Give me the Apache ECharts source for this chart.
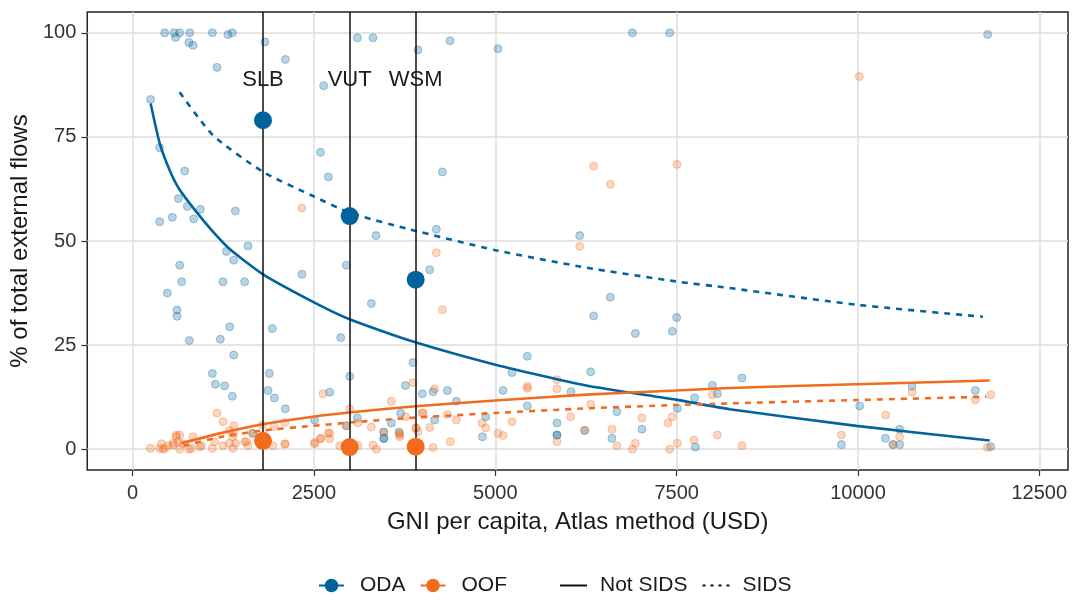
<!DOCTYPE html>
<html><head><meta charset="utf-8">
<script src="https://cdn.jsdelivr.net/npm/echarts@6/dist/echarts.min.js"></script>
<style>html,body{margin:0;padding:0;background:#fff}#c{width:1074px;height:601px}</style>
</head><body><div id="c"></div><script>
// ---- tick labels ----
const xTicks = [0, 2500, 5000, 7500, 10000, 12500];
const yTicks = [0, 25, 50, 75, 100];

// ---- highlighted countries ----
const countries = ['SLB', 'VUT', 'WSM'];
const countryGNI = [1797, 2992, 3902];
const countryODA = [79, 56, 40.7];
const countryOOF = [2.0, 0.5, 0.6];
const countryLabelY = [88.8, 88.8, 88.8];

// ---- scatter points: ODA share ----
const odaPoints = [
[441,100],[570,100],[593,98.9],[648,100],[786,100],[776,97.7],[832,97],[1099,100],[1314,99.6],[1374,100],[1824,97.8],[2105,93.6],[1163,91.7],[2633,87.3],[248,84],[372,72.4],[717,66.8],[2588,71.3],[2698,65.4],[630,60.2],[754,58.3],[933,57.6],[1416,57.2],[372,54.6],[547,55.7],[841,55.3],[3355,51.3],[1590,48.8],[3098,98.8],[3313,98.8],
[3934,95.9],[4375,98.1],[5037,96.2],[6890,100],[7404,100],[4270,66.6],[4187,52.8],[6163,51.3],[11788,99.6],
[1292,47.5],[1393,45.4],[648,44.2],[676,40.2],[1245,40.2],[1544,40.2],[2334,42],[2946,44.2],[478,37.5],[611,33.4],[611,31.9],[3291,35],[1337,29.4],[1926,29],[781,26.1],[1209,26.4],[2868,26.8],[1393,22.6],[1099,18.2],[1885,18.2],[2992,17.5],[1140,15.6],[1268,15.2],[1866,14.1],[1374,12.7],[1953,12.3],[2716,13.7],[2105,9.7],[3760,15.3],[3695,8.6],[3567,6.3],[3098,7.5],[2509,7.0],[3461,2.5],[3461,4.1],[3672,4.1],[1659,3.8],[2946,5.6],
[4095,43.1],[6586,36.5],[6356,32],[6931,27.8],[7441,28.3],[7500,31.6],[5442,22.3],[5230,18.4],[6315,18.6],[3865,20.8],[3994,13.3],[4141,13.8],[4339,14.1],[4463,11.5],[5106,14.1],[5442,10.4],[6044,13.8],[6677,9.0],[4164,7.0],[4867,7.8],[5850,6.3],[4822,3.0],[5850,3.4],[5850,3.4],[6608,2.6],[7022,4.8],[7510,9.8],[7749,12.3],[7992,15.3],[8061,13.3],[7758,0.5],[6232,4.5],[3465,2.7],
[8401,17.1],[10023,10.4],[10745,15.1],[11618,14.1],[9771,1.1],[10378,2.6],[10575,4.8],[10575,1.1],[10483,1.1],[11830,0.6]
];

// ---- scatter points: OOF share ----
const oofPoints = [
[6356,68],[6586,63.6],[7505,68.4],[6163,48.7],[4187,47.2],[10019,89.5],[2334,57.9],[4270,33.5],[3865,16],[4164,14.5],[5442,15.1],[5442,14.6],[5850,16.7],[5850,14.5],[6315,10.8],[3994,8.7],[4339,8.3],[4463,7],[4817,6.3],[4867,5.1],[5230,6.6],[6039,7.8],[4095,5.2],[3902,5.1],[3934,4.2],[3681,3.8],[4141,0.4],[4380,1.8],[5037,3.8],[5106,3.3],[5850,1.8],[6608,4.8],[6677,0.8],[6890,0],[6931,1.4],[7022,7.5],[7381,6.3],[7441,7.8],[7404,0],[7510,1.4],[7739,2.2],[8061,3.4],[7992,13.1],[6232,4.5],
[8401,0.8],[9771,3.4],[10382,8.2],[10575,3.0],[10745,13.7],[11618,11.9],[11830,13.1],[11784,0.4],[10483,1.1],
[2624,13.3],[3567,11.5],[2992,9.7],[2946,5.6],[3461,4.1],[3681,3.4],[2693,3.8],[2588,2.5],[2716,2.5],[2509,1.3],[2854,0.8],[3106,0.9],[3313,1.0],[3360,0],[2105,1.3],[1934,0.8],[1163,8.7],[1245,6.6],[1397,5.6],[1337,4.5],[1393,3.8],[1650,3.8],[1544,1.8],[1590,0.8],[1383,0.2],[1245,0.8],[1131,1.8],[1099,0.2],[947,0.8],[832,3.0],[776,0],[648,0],[625,1.8],[602,3.4],[648,3.4],[556,1.4],[487,0.8],[395,1.3],[372,0.2],[244,0.2],[441,0.2],[694,1.3],[1788,5.8],[1948,5.4],[2096,6.4],[1568,1.8],[2096,1.2],[2509,1.6],[2592,2.6],[2716,3.8],[3106,6.3],[3291,5.3],[3681,3.0],[3763,7.8],[3911,5.1],[4002,8.7],[418,0],[560,1.0],[602,3.0],[809,0.2],[924,0.6],[1330,1.4],[1420,1.4],[1380,3.0]
];

// ---- fitted curves ----
const odaNotSidsX = [248,372,510,648,878,1100,1337,1797,2486,2992,3819,5001,6255,7487,8231,9978,11816];
const odaNotSidsY = [83,73.5,67,62.3,57,52.4,48.1,42,35.4,31.2,26.1,20.3,15.3,11.9,9.6,5.6,2.1];
const oofNotSidsX = [671,1200,1797,2486,2992,3819,5001,6255,7487,8231,9978,11816];
const oofNotSidsY = [1.4,3.8,6.0,7.8,8.8,10.2,11.7,13.1,14.1,14.7,15.6,16.5];
const odaSidsX = [648,1107,1797,2486,2992,3819,5001,6255,7487,8231,9978,11723];
const odaSidsY = [85.7,75.4,66.6,60.8,56.8,52.8,47.8,43.6,40.3,38.7,34.7,31.8];
const oofSidsX = [700,1200,1797,2486,2992,3819,5001,6255,7487,8231,9978,11769];
const oofSidsY = [0.8,2.9,4.5,5.6,6.4,7.5,8.7,9.8,10.6,11.0,11.8,12.6];

const BLUE = '#00639B', ORANGE = '#F26B1F';
const FONT = '"Liberation Sans", Arial, sans-serif';
const zip = (xs, ys) => xs.map((x, i) => [x, ys[i]]);

const chart = echarts.init(document.getElementById('c'), null, {renderer: 'canvas'});
const curve = (name, xs, ys, color, dashed) => ({
  name, type: 'line', data: zip(xs, ys), symbol: 'none', smooth: 0.2,
  lineStyle: {color, width: 2.6, type: dashed ? [6, 6] : 'solid'}, z: 3, silent: true
});
const hideSym = {color: 'rgba(0,0,0,0)', borderColor: 'rgba(0,0,0,0)', borderWidth: 0};
chart.setOption({
  animation: false,
  backgroundColor: '#fff',
  textStyle: {fontFamily: FONT},
  grid: {left: 87, right: 6, top: 12, bottom: 131, show: true, borderColor: '#222', borderWidth: 1.5, backgroundColor: '#fff'},
  xAxis: {
    type: 'value', min: -626, max: 12896,
    name: 'GNI per capita, Atlas method (USD)', nameLocation: 'middle', nameGap: 40,
    nameTextStyle: {fontSize: 24, color: '#1a1a1a', fontFamily: FONT},
    axisLine: {show: false, onZero: false},
    axisTick: {show: true, length: 6, lineStyle: {color: '#333', width: 1.2}, customValues: xTicks},
    axisLabel: {fontSize: 20, color: '#333', margin: 13, fontFamily: FONT, customValues: xTicks, formatter: v => String(v)},
    splitLine: {show: true, lineStyle: {color: '#DCDCDC', width: 1.5}}
  },
  yAxis: {
    type: 'value', min: -5, max: 105,
    name: '% of total external flows', nameLocation: 'middle', nameGap: 53, nameRotate: 90,
    nameTextStyle: {fontSize: 24, color: '#1a1a1a', fontFamily: FONT},
    axisLine: {show: false, onZero: false},
    axisTick: {show: true, length: 6, lineStyle: {color: '#333', width: 1.2}, customValues: yTicks},
    axisLabel: {fontSize: 20, color: '#333', margin: 11, fontFamily: FONT, customValues: yTicks, formatter: v => String(v)},
    splitLine: {show: true, lineStyle: {color: '#DCDCDC', width: 1.5}}
  },
  legend: [
    {data: ['ODA', 'OOF'], left: 318, top: 575, padding: 0, itemWidth: 25, itemHeight: 17, itemGap: 14,
     textStyle: {fontSize: 21, color: '#1a1a1a', fontFamily: FONT, padding: [0, 0, 0, 11]}, selectedMode: false},
    {data: [{name: 'Not SIDS', itemStyle: hideSym}, {name: 'SIDS', itemStyle: hideSym}], left: 559, top: 575, padding: 0,
     itemWidth: 27, itemHeight: 17, itemGap: 14,
     textStyle: {fontSize: 21, color: '#1a1a1a', fontFamily: FONT, padding: [0, 0, 0, 8]}, selectedMode: false}
  ],
  series: [
    {name: 'ODA points', type: 'scatter', data: odaPoints, symbolSize: 8, z: 2, silent: true,
     itemStyle: {color: 'rgba(0,99,155,0.28)', borderColor: 'rgba(0,99,155,0.32)', borderWidth: 1, opacity: 1}},
    {name: 'OOF points', type: 'scatter', data: oofPoints, symbolSize: 8, z: 2, silent: true,
     itemStyle: {color: 'rgba(242,107,31,0.28)', borderColor: 'rgba(242,107,31,0.32)', borderWidth: 1, opacity: 1}},
    curve('ODA not SIDS', odaNotSidsX, odaNotSidsY, BLUE, false),
    curve('OOF not SIDS', oofNotSidsX, oofNotSidsY, ORANGE, false),
    curve('ODA SIDS', odaSidsX, odaSidsY, BLUE, true),
    curve('OOF SIDS', oofSidsX, oofSidsY, ORANGE, true),
    {name: 'country lines', type: 'line', data: [], z: 4, silent: true,
     markLine: {silent: true, symbol: ['none', 'none'], animation: false, label: {show: false},
       lineStyle: {color: '#111', width: 1.5, type: 'solid'},
       data: countryGNI.map(x => ({xAxis: x}))}},
    {name: 'ODA country', type: 'scatter', data: zip(countryGNI, countryODA), symbolSize: 18, z: 5, silent: true,
     itemStyle: {color: BLUE, opacity: 1}},
    {name: 'OOF country', type: 'scatter', data: zip(countryGNI, countryOOF), symbolSize: 18, z: 5, silent: true,
     itemStyle: {color: ORANGE, opacity: 1}},
    {name: 'country labels', type: 'scatter', symbolSize: 1, z: 6, silent: true, itemStyle: {color: 'rgba(0,0,0,0)', opacity: 1},
     data: countries.map((c, i) => ({name: c, value: [countryGNI[i], countryLabelY[i]]})),
     label: {show: true, position: 'inside', formatter: p => p.name, fontSize: 22, color: '#1a1a1a', fontFamily: FONT}},
    // legend-only series
    {name: 'ODA', type: 'line', data: [], symbol: 'circle', itemStyle: {color: BLUE}, lineStyle: {color: BLUE, width: 3}},
    {name: 'OOF', type: 'line', data: [], symbol: 'circle', itemStyle: {color: ORANGE}, lineStyle: {color: ORANGE, width: 3}},
    {name: 'Not SIDS', type: 'line', data: [], symbol: 'none', itemStyle: {color: '#111'}, lineStyle: {color: '#111', width: 3}},
    {name: 'SIDS', type: 'line', data: [], symbol: 'none', itemStyle: {color: '#111'}, lineStyle: {color: '#111', width: 3, type: [3, 5]}}
  ]
});
</script></body></html>
